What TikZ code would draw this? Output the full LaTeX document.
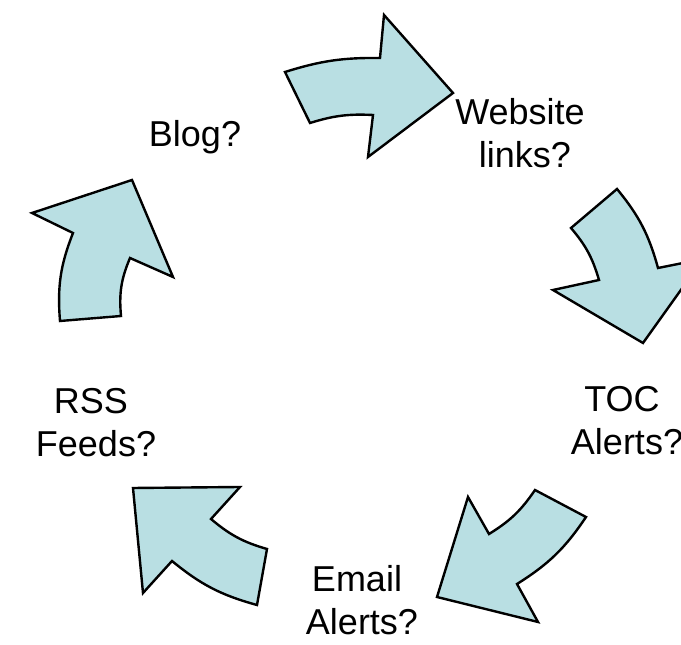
\documentclass[tikz,border=0pt]{standalone}
\usepackage{fontspec}
\setmainfont{Liberation Sans}
\definecolor{arrowblue}{RGB}{185,223,227}
\tikzset{
  cyclearrow/.style={draw=black, fill=arrowblue, line width=1.8pt},
  cyclelabel/.style={font=\fontsize{27}{32.25}\selectfont, align=center, anchor=base, inner sep=0pt}
}
\begin{document}
\begin{tikzpicture}[x=0.75pt, y=0.75pt]
  \useasboundingbox (0,0) rectangle (681,645);
  \clip (0,0) rectangle (681,645);

  % block arrows, clockwise from the top
  \draw[cyclearrow] (285,573) to[bend left=9] (380,587) -- (384,630) -- (453,552) -- (368,488) -- (373,530) to[bend right=10] (310,522) -- cycle;
  \draw[cyclearrow] (617,456) to[bend left=12] (658,377) -- (703,386) -- (643,302) -- (553,355) -- (599,365) to[bend right=12] (571,417) -- cycle;
  \draw[cyclearrow] (586,128) to[bend left=12] (517,61) -- (538,23) -- (437,48) -- (468,148) -- (489,111) to[bend right=12] (535,155) -- cycle;
  \draw[cyclearrow] (257,40) to[bend left=12] (172,84) -- (143,52) -- (133,157) -- (240,158) -- (211,126) to[bend right=12] (267,96) -- cycle;
  \draw[cyclearrow] (121,329) to[bend left=14] (130,387) -- (173,368) -- (132,465) -- (32,432) -- (73,412) to[bend right=13] (60,324) -- cycle;

  % labels (base = last line)
  \node[cyclelabel] (blog) at (195,498) {Blog?};
  \node[cyclelabel] (website) at (525,477) {Website\kern.278em\\links?};
  \node[cyclelabel] (toc) at (627,190) {TOC\kern.278em\\Alerts?};
  \node[cyclelabel] (email) at (362,10) {Email\kern.278em\\Alerts?};
  \node[cyclelabel] (rss) at (96,188) {RSS\kern.278em\\Feeds?};
\end{tikzpicture}
\end{document}
